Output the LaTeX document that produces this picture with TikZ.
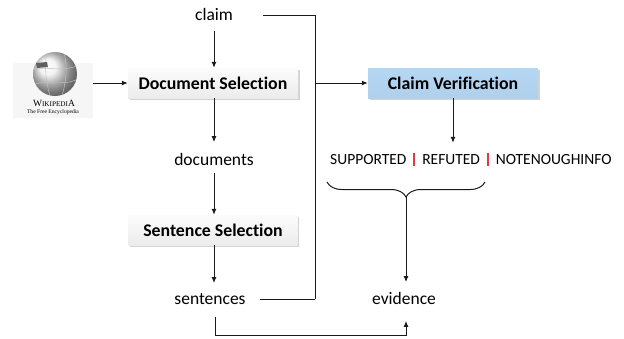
\documentclass[tikz,border=0pt]{standalone}
\usepackage{fontspec}
\setmainfont{Carlito}[Ligatures=NoCommon]
\newfontfamily\wikifont{Liberation Serif}
\usetikzlibrary{arrows.meta,shadows,decorations.pathreplacing}
\definecolor{cvblue}{HTML}{B4D7F4}
\definecolor{redbar}{HTML}{E8383D}
\definecolor{ln}{HTML}{1A1A1A}
\newcommand{\redsep}{\hspace{7pt}{\color{redbar}\rule[-1.5pt]{1.8pt}{13pt}}\hspace{7pt}}
\begin{document}
\begin{tikzpicture}[x=1pt,y=-1pt,
  lbl/.style={inner sep=0pt, font=\fontsize{17.5}{20}\selectfont, text height=11.5pt, text depth=0pt},
  stagebox/.style={minimum width=170pt, minimum height=30pt, inner sep=0pt,
    font=\fontsize{17.8}{20}\selectfont\bfseries, top color=gray!3, bottom color=gray!15,
    drop shadow={shadow xshift=1.5pt, shadow yshift=-1.5pt, opacity=0.35, fill=gray}},
  cvbox/.style={stagebox, top color=cvblue, bottom color=cvblue!92!gray},
  conn/.style={draw=ln, line width=1pt},
  arr/.style={conn, -{Latex[length=6pt,width=5pt]}},
]
\useasboundingbox (0,0) rectangle (624,338);

% Wikipedia logo
\node[minimum width=80pt, minimum height=55pt, inner sep=0pt, fill=gray!7] (wiki) at (53,90.5) {};
\shade[ball color=white!88!gray] (55,74) circle (22);
\begin{scope}
  \clip (55,74) circle (22);
  \draw[gray!50, line width=0.5pt] (33,70) .. controls (45,66) and (60,72) .. (77,66);
  \draw[gray!50, line width=0.5pt] (35,84) .. controls (47,80) and (62,86) .. (76,80);
  \draw[gray!50, line width=0.5pt] (47,52) .. controls (44,66) and (46,82) .. (50,96);
  \draw[gray!50, line width=0.5pt] (64,53) .. controls (68,66) and (66,82) .. (62,96);
  \fill[gray!75!black] (36,63) -- (47,62) -- (48,67) -- (37,68) -- cycle;
\end{scope}
\node[inner sep=0pt] (wikititle) at (54,103) {\wikifont\fontsize{9.5}{10}\selectfont W{\fontsize{7.2}{8}\selectfont IKIPEDI}A};
\node[inner sep=0pt] (wikisub) at (53,112) {\wikifont\fontsize{5.6}{6}\selectfont The Free Encyclopedia};

% boxes
\node[stagebox] (docsel) at (213,83) {Document Selection};
\node[stagebox, minimum width=169pt] (sentsel) at (213,230) {Sentence Selection};
\node[cvbox] (cv) at (453,83) {Claim Verification};

% text nodes
\node[lbl] (claim) at (214,15) {claim};
\node[lbl] (docs) at (214,160) {documents};
\node[lbl] (sents) at (210,299) {sentences};
\node[lbl] (evid) at (404,299) {evidence};
\node[inner sep=0pt, anchor=west, font=\fontsize{15.5}{18}\selectfont, text height=10pt, text depth=0pt]
  (labels) at (330,159) {SUPPORTED\redsep REFUTED\redsep NOTENOUGHINFO};

% junction coordinates
\coordinate (jt) at (315,15);
\coordinate (jm) at (315,83);
\coordinate (brl) at (327,182);
\coordinate (brr) at (485,182);
\coordinate (brtip) at (406,197);
\coordinate (bl) at (406,335);

% connectors
\draw[arr, shorten <=10pt] (claim.south) -- (claim.south |- docsel.north);
\draw[arr, shorten >=12pt] (docsel.south -| docs.north) -- (docs.north);
\draw[arr, shorten <=7pt] (docs.south) -- (docs.south |- sentsel.north);
\draw[arr, shorten >=10pt] (sentsel.south -| docs.south) -- (docs.south |- sents.north);
\draw[arr] (wiki.east |- docsel.west) -- (docsel.west);
\draw[conn] ([xshift=30pt]claim.east) -| (sents.east -| jt);
\draw[conn] ([xshift=14pt]sents.east) -- (sents.east -| jt);
\draw[arr] (jm) -- (cv.west);
\draw[arr, shorten >=11pt] (cv.south -| 453,0) -- (cv.south |- labels.north);
\draw[conn, decorate, decoration={brace, mirror, amplitude=15pt}] (brl) -- (brr);
\draw[arr, shorten >=11pt] (brtip) -- (brtip |- evid.north);
\draw[arr, shorten >=16pt] ([xshift=5pt,yshift=-12pt]sents.south) |- (bl) -- (bl |- evid.south);
\end{tikzpicture}
\end{document}
